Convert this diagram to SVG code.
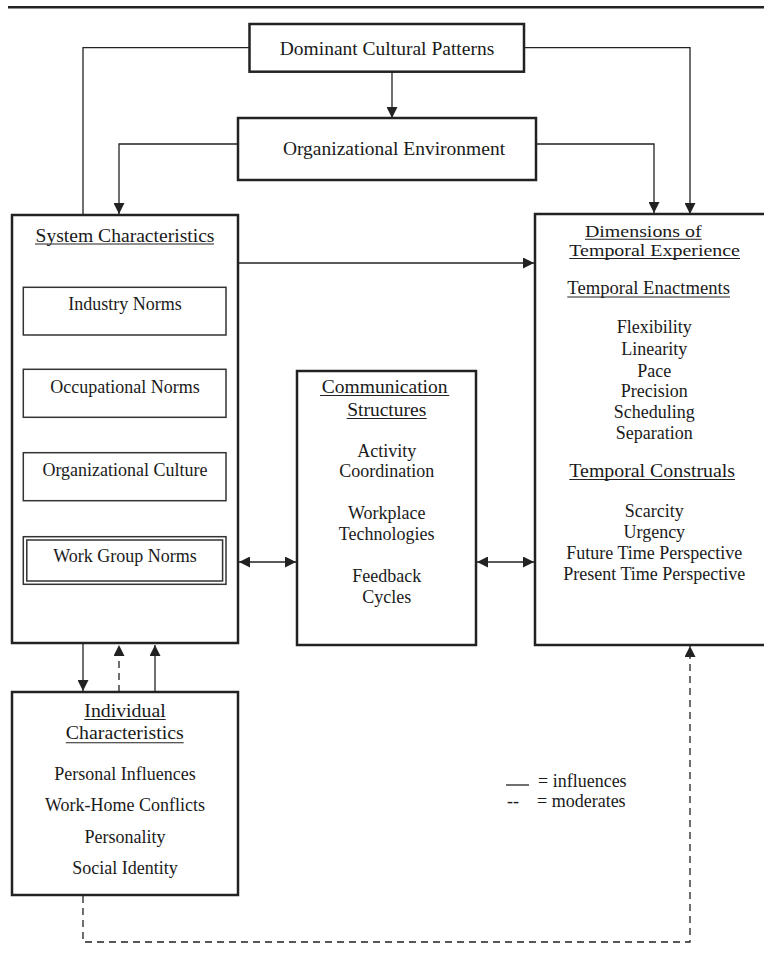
<svg xmlns="http://www.w3.org/2000/svg" width="764" height="958" viewBox="0 0 764 958">
<style>
.box{fill:#fff;stroke:#222;stroke-width:2.5}
.inner{fill:none;stroke:#333;stroke-width:1.5}
.ln{fill:none;stroke:#222;stroke-width:1.3}
.dash{fill:none;stroke:#222;stroke-width:1.3;stroke-dasharray:7 5}
.ul{stroke:#222;stroke-width:1.1}
text{font-family:"Liberation Serif","Times New Roman",serif;fill:#1a1a1a;font-size:18px;text-anchor:middle}
.h{font-size:19.5px}
.hs{font-size:17px}
.l{text-anchor:start}
</style>
<defs>
<marker id="ah" viewBox="0 0 11 11" refX="11" refY="5.5" markerWidth="11" markerHeight="11" markerUnits="userSpaceOnUse" orient="auto">
<path d="M0,0 L11,5.5 L0,11 z" fill="#222"/>
</marker>
<marker id="as" viewBox="0 0 11 11" refX="0" refY="5.5" markerWidth="11" markerHeight="11" markerUnits="userSpaceOnUse" orient="auto">
<path d="M11,0 L0,5.5 L11,11 z" fill="#222"/>
</marker>
</defs>
<line x1="8" y1="7.3" x2="764" y2="7.3" stroke="#222" stroke-width="2.6"/>
<g id="connectors">
<polyline class="ln" points="249.5,47.7 83,47.7 83,215"/>
<polyline class="ln" points="524,47.7 690,47.7 690,214" marker-end="url(#ah)"/>
<line class="ln" x1="392" y1="72" x2="392" y2="118" marker-end="url(#ah)"/>
<polyline class="ln" points="238,144 119,144 119,214" marker-end="url(#ah)"/>
<polyline class="ln" points="536,144 654,144 654,213" marker-end="url(#ah)"/>
<line class="ln" x1="238" y1="263" x2="534" y2="263" marker-end="url(#ah)"/>
<line class="ln" x1="239" y1="562" x2="296" y2="562" marker-start="url(#as)" marker-end="url(#ah)"/>
<line class="ln" x1="477" y1="562" x2="534" y2="562" marker-start="url(#as)" marker-end="url(#ah)"/>
<line class="ln" x1="83" y1="644" x2="83" y2="691" marker-end="url(#ah)"/>
<line class="dash" x1="119" y1="692" x2="119" y2="645" marker-end="url(#ah)"/>
<line class="ln" x1="155" y1="692" x2="155" y2="645" marker-end="url(#ah)"/>
<polyline class="dash" points="83,896 83,942 690,942 690,646" marker-end="url(#ah)"/>
</g>
<g id="dominant">
<rect class="box" x="249.5" y="24" width="274.5" height="47.7"/>
<text class="h" x="387" y="55">Dominant Cultural Patterns</text>
</g>
<g id="orgenv">
<rect class="box" x="238" y="118" width="298" height="62"/>
<text class="h" x="394" y="155">Organizational Environment</text>
</g>
<g id="system">
<rect class="box" x="12" y="215" width="226" height="428"/>
<text class="h" x="125" y="242" textLength="179" lengthAdjust="spacingAndGlyphs">System Characteristics</text>
<line class="ul" x1="35" y1="244" x2="214" y2="244"/>
</g>
<g id="industry">
<rect class="inner" x="23.3" y="287.3" width="202.7" height="47.7"/>
<text x="125" y="310">Industry Norms</text>
</g>
<g id="occupational">
<rect class="inner" x="23.3" y="369.3" width="202.7" height="48"/>
<text x="125" y="392.7">Occupational Norms</text>
</g>
<g id="orgculture">
<rect class="inner" x="23.3" y="452.7" width="202.7" height="48"/>
<text x="125" y="476">Organizational Culture</text>
</g>
<g id="workgroup">
<rect class="inner" x="23.3" y="536.7" width="202.7" height="47.6" stroke-width="1.2"/>
<rect class="inner" x="26.8" y="540" width="195.8" height="41" stroke-width="1.2"/>
<text x="125" y="561.7">Work Group Norms</text>
</g>
<g id="communication">
<rect class="box" x="297" y="371" width="179" height="274"/>
<text class="h" x="384.7" y="393">Communication</text>
<line class="ul" x1="320" y1="395.5" x2="449.3" y2="395.5"/>
<text class="h" x="386.7" y="416">Structures</text>
<line class="ul" x1="346.7" y1="418.5" x2="426.7" y2="418.5"/>
<text x="386.7" y="457">Activity</text>
<text x="386.7" y="477.3">Coordination</text>
<text x="386.7" y="519.3">Workplace</text>
<text x="386.7" y="540">Technologies</text>
<text x="386.7" y="581.7">Feedback</text>
<text x="386.7" y="603.3">Cycles</text>
</g>
<g id="dimensions">
<rect class="box" x="535" y="214" width="245" height="431"/>
<text class="hs" x="643.3" y="236.5" textLength="116.7" lengthAdjust="spacingAndGlyphs">Dimensions of</text>
<line class="ul" x1="585" y1="239.3" x2="701.7" y2="239.3"/>
<text class="hs" x="654.6" y="255.5" textLength="170.7" lengthAdjust="spacingAndGlyphs">Temporal Experience</text>
<line class="ul" x1="569.3" y1="258.5" x2="740" y2="258.5"/>
<text class="h" x="648.7" y="294.3" textLength="162.7" lengthAdjust="spacingAndGlyphs">Temporal Enactments</text>
<line class="ul" x1="567.3" y1="297" x2="730" y2="297"/>
<text x="654.3" y="333.3">Flexibility</text>
<text x="654.3" y="355">Linearity</text>
<text x="654.3" y="376.7">Pace</text>
<text x="654.3" y="396.7">Precision</text>
<text x="654.3" y="418.3">Scheduling</text>
<text x="654.3" y="439">Separation</text>
<text class="h" x="652.2" y="476.7" textLength="165.7" lengthAdjust="spacingAndGlyphs">Temporal Construals</text>
<line class="ul" x1="569.3" y1="479.5" x2="735" y2="479.5"/>
<text x="654.3" y="517.3">Scarcity</text>
<text x="654.3" y="538.3">Urgency</text>
<text x="654.3" y="559">Future Time Perspective</text>
<text x="654.3" y="580">Present Time Perspective</text>
</g>
<g id="individual">
<rect class="box" x="12" y="692" width="226" height="203"/>
<text class="h" x="125" y="716.7" textLength="81.4" lengthAdjust="spacingAndGlyphs">Individual</text>
<line class="ul" x1="84.3" y1="719.5" x2="165.7" y2="719.5"/>
<text class="h" x="124.8" y="739.3" textLength="117.9" lengthAdjust="spacingAndGlyphs">Characteristics</text>
<line class="ul" x1="65.8" y1="742.8" x2="183.7" y2="742.8"/>
<text x="125" y="780">Personal Influences</text>
<text x="125" y="811">Work-Home Conflicts</text>
<text x="125" y="842.7">Personality</text>
<text x="125" y="874">Social Identity</text>
</g>
<g id="legend">
<line class="ln" x1="506" y1="785" x2="529" y2="785"/>
<text class="l" x="538" y="787.3">= influences</text>
<text class="l" x="507" y="807">--</text>
<text class="l" x="537" y="807">= moderates</text>
</g>
</svg>
